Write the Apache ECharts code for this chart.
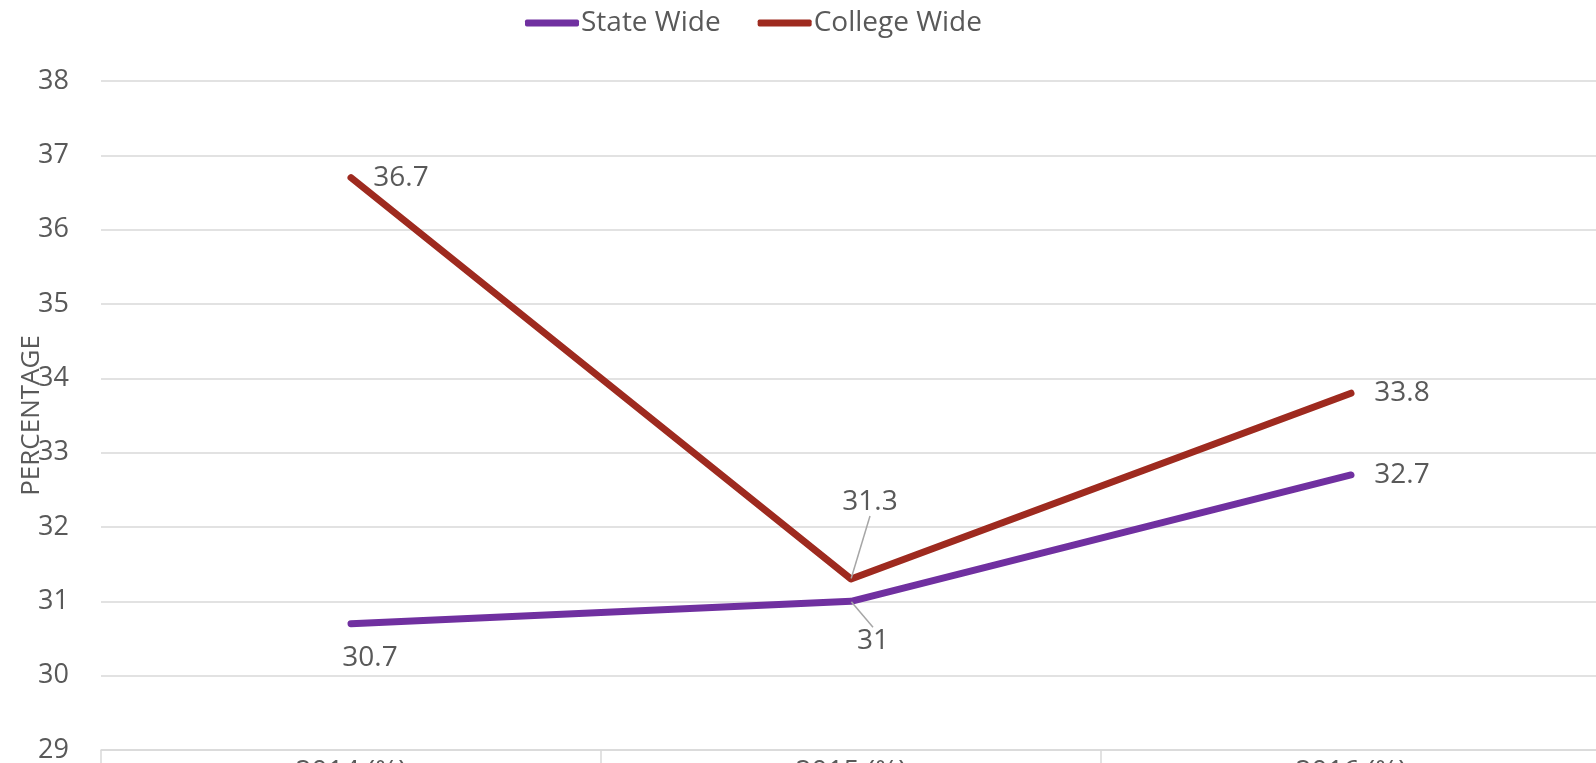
<!DOCTYPE html>
<html>
<head>
<meta charset="utf-8">
<script src="https://cdn.jsdelivr.net/npm/echarts@6/dist/echarts.min.js"></script>
<style>
  html, body { margin: 0; padding: 0; background: #fff; }
  #chart { width: 1596px; height: 763px; }
</style>
</head>
<body>
<div id="chart"></div>
<script>
var categories = ["2014 (%)", "2015 (%)", "2016 (%)"];
var stateWide = [30.7, 31, 32.7];
var collegeWide = [36.7, 31.3, 33.8];

// label offsets (px) from the point to the label centre
var stateOffsets = [[19, 34], [22, 40], [51, 0]];
var collegeOffsets = [[50, 0], [19, -77], [51, 0]];

var textColor = "#595959";
var font = "'Open Sans', 'Liberation Sans', sans-serif";

var chart = echarts.init(document.getElementById("chart"));

function makeSeries (name, data, color, offsets) {
  return {
    name: name,
    type: "line",
    data: data.map(function (v, i) {
      return {
        value: v,
        labelLine: { show: i === 1 }
      };
    }),
    symbol: "circle",
    symbolSize: 1,
    showSymbol: true,
    itemStyle: { color: color },
    lineStyle: { color: color, width: 7, cap: "round", join: "round" },
    label: {
      show: true,
      position: "inside",
      color: textColor,
      fontSize: 28,
      fontFamily: font
    },
    labelLine: {
      show: false,
      lineStyle: { color: "#a6a6a6", width: 1.5 }
    },
    labelLayout: function (p) {
      var o = offsets[p.dataIndex];
      return { dx: o[0], dy: o[1] };
    },
    emphasis: { disabled: true },
    animation: false
  };
}

chart.setOption({
  animation: false,
  legend: {
    data: ["State Wide", "College Wide"],
    left: 520,
    top: 4,
    icon: "roundRect",
    itemWidth: 54,
    itemHeight: 7,
    itemGap: 37,
    textStyle: { color: textColor, fontSize: 28, fontFamily: font, padding: [0, 0, 0, -3] }
  },
  grid: {
    left: 101,
    right: -5,
    top: 81,
    bottom: 13,
    containLabel: false,
    outerBoundsMode: "none"
  },
  xAxis: {
    type: "category",
    data: categories,
    boundaryGap: true,
    axisLine: { lineStyle: { color: "#d9d9d9", width: 1.5 } },
    axisTick: { show: true, length: 20, lineStyle: { color: "#d9d9d9", width: 1.5 } },
    axisLabel: { color: textColor, fontSize: 28, fontFamily: font, margin: 8 }
  },
  yAxis: {
    type: "value",
    min: 29,
    max: 38,
    interval: 1,
    name: "PERCENTAGE",
    nameLocation: "middle",
    nameRotate: 90,
    nameGap: 56,
    nameMoveOverlap: false,
    nameTextStyle: { color: textColor, fontSize: 26, fontFamily: font },
    axisLine: { show: false },
    axisTick: { show: false },
    axisLabel: { color: textColor, fontSize: 27, fontFamily: font, margin: 32 },
    splitLine: { lineStyle: { color: "#d9d9d9", width: 1.5 } }
  },
  series: [
    makeSeries("State Wide", stateWide, "#7030a0", stateOffsets),
    makeSeries("College Wide", collegeWide, "#9e2a1f", collegeOffsets)
  ]
});
</script>
</body>
</html>
